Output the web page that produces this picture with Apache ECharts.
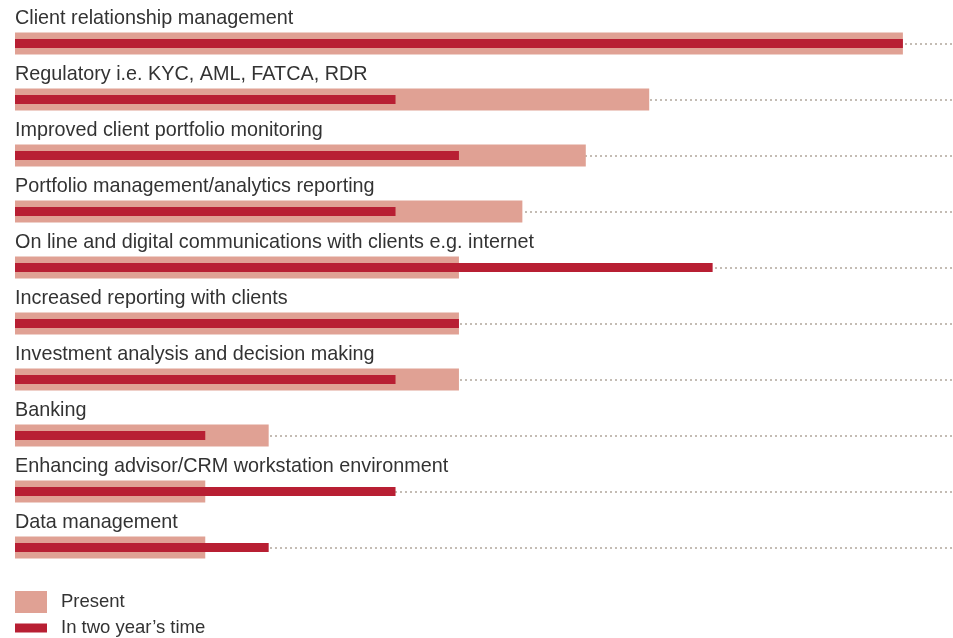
<!DOCTYPE html>
<html>
<head>
<meta charset="utf-8">
<script src="https://cdn.jsdelivr.net/npm/echarts@6/dist/echarts.min.js"></script>
<style>
  html, body { margin: 0; padding: 0; background: #fff; }
  #chart { width: 953px; height: 638px; }
</style>
</head>
<body>
<div id="chart"></div>
<script>
var categories = [
  'Client relationship management',
  'Regulatory i.e. KYC, AML, FATCA, RDR',
  'Improved client portfolio monitoring',
  'Portfolio management/analytics reporting',
  'On line and digital communications with clients e.g. internet',
  'Increased reporting with clients',
  'Investment analysis and decision making',
  'Banking',
  'Enhancing advisor/CRM workstation environment',
  'Data management'
]
var present = [14, 10, 9, 8, 7, 7, 7, 4, 3, 3]
var twoYears = [14, 6, 7, 6, 11, 7, 6, 3, 6, 4]

var FONT = 'Liberation Sans, Arial, sans-serif'
var PINK = '#e0a194'
var RED = '#b81f33'
var chart = echarts.init(document.getElementById('chart'))

chart.setOption({
  animation: false,
  grid: {
    left: 15,
    right: 0,
    top: 43.5,
    bottom: 90.5,
    containLabel: false
  },
  // 两个图例分开放，方便控制各自的图标高度
  legend: [
    {
      left: 15,
      top: 591,
      padding: 0,
      itemWidth: 32,
      itemHeight: 22,
      selectedMode: false,
      icon: 'rect',
      textStyle: { fontFamily: FONT, fontSize: 18.5, color: '#333', padding: [0, 0, 0, 9] },
      data: ['Present']
    },
    {
      left: 15,
      top: 618.5,
      padding: 0,
      itemWidth: 32,
      itemHeight: 9,
      selectedMode: false,
      icon: 'rect',
      textStyle: { fontFamily: FONT, fontSize: 18.5, color: '#333', padding: [0, 0, 0, 9] },
      data: ['In two year\u2019s time']
    }
  ],
  xAxis: {
    type: 'value',
    min: 0,
    max: 14.79,
    show: false
  },
  yAxis: [
    {
      type: 'category',
      data: categories,
      inverse: true,
      boundaryGap: false,
      axisLine: { show: false },
      axisTick: { show: false },
      axisLabel: { show: false },
      splitLine: {
        show: true,
        interval: 0,
        lineStyle: {
          color: '#c4bcb4',
          width: 2,
          type: [2, 3]
        }
      }
    },
    {
      type: 'category',
      data: categories,
      inverse: true,
      boundaryGap: false,
      show: false
    }
  ],
  series: [
    {
      name: 'Present',
      type: 'bar',
      yAxisIndex: 0,
      data: present,
      barWidth: 22,
      itemStyle: { color: PINK },
      label: {
        show: true,
        formatter: '{b}',
        position: [0, -14],
        align: 'left',
        verticalAlign: 'middle',
        fontFamily: FONT,
        fontSize: 19.8,
        color: '#333'
      }
    },
    {
      name: 'In two year\u2019s time',
      type: 'bar',
      yAxisIndex: 1,
      data: twoYears,
      barWidth: 9,
      itemStyle: { color: RED },
      z: 3
    }
  ]
})
</script>
</body>
</html>
